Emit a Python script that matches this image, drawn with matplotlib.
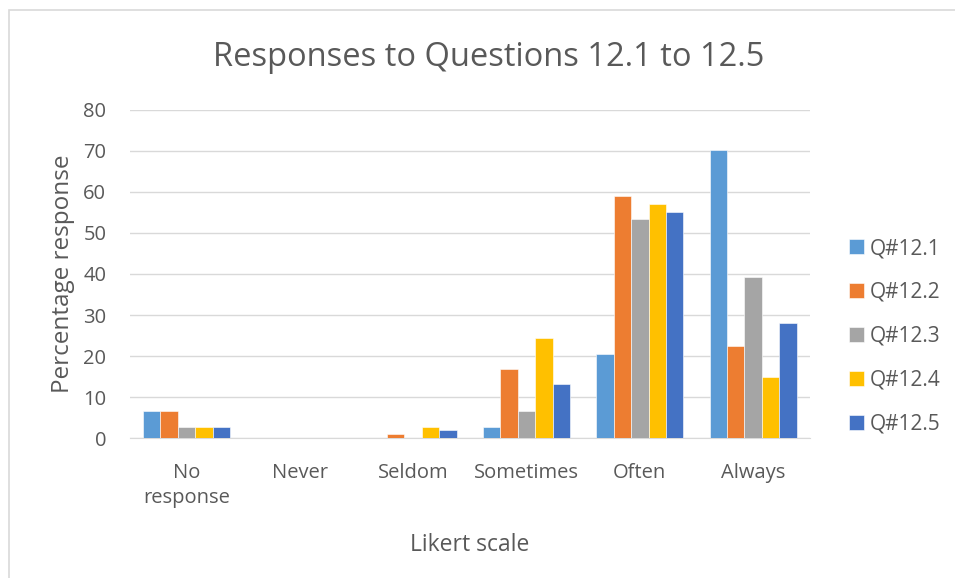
import numpy as np
import matplotlib.pyplot as plt
from matplotlib.patches import Rectangle

plt.rcParams['font.family'] = ['Open Sans', 'DejaVu Sans']

categories = ["No\nresponse", "Never", "Seldom", "Sometimes", "Often", "Always"]
series = ["Q#12.1", "Q#12.2", "Q#12.3", "Q#12.4", "Q#12.5"]
q121 = [6.5, 0, 0, 2.8, 20.6, 70.1]
q122 = [6.5, 0, 0.9, 16.8, 58.9, 22.4]
q123 = [2.8, 0, 0, 6.5, 53.3, 39.3]
q124 = [2.8, 0, 2.8, 24.3, 57.0, 15.0]
q125 = [2.8, 0, 1.9, 13.1, 55.1, 28.0]
values = [q121, q122, q123, q124, q125]
colors = ["#5B9BD5", "#ED7D31", "#A5A5A5", "#FFC000", "#4472C4"]
text_col = "#595959"

fig = plt.figure(figsize=(9.55, 5.78), dpi=100)
ax = fig.add_axes([0.136, 0.242, 0.712, 0.568])

x = np.arange(len(categories))
w = 0.154
for i, (name, vals) in enumerate(zip(series, values)):
    ax.bar(x + (i - 2) * w, vals, w, color=colors[i], label=name,
           edgecolor="white", linewidth=0.4, zorder=3)

ax.set_xlim(-0.5, len(categories) - 0.5)
ax.set_ylim(0, 80)
ax.set_yticks(range(0, 81, 10))
ax.set_xticks(x)
ax.set_xticklabels(categories, fontsize=14.5, color=text_col, linespacing=1.35)
ax.tick_params(axis='y', labelsize=14.5, colors=text_col, length=0, pad=17)
ax.tick_params(axis='x', length=0, pad=18)
ax.grid(axis='y', color="#D9D9D9", linewidth=1, zorder=0)
for s in ["top", "right", "left"]:
    ax.spines[s].set_visible(False)
ax.spines["bottom"].set_color("#D9D9D9")

ax.set_ylabel("Percentage response", fontsize=17.5, color=text_col, labelpad=6)
ax.set_xlabel("Likert scale", fontsize=16.5, color=text_col, labelpad=18)
fig.text(0.512, 0.9, "Responses to Questions 12.1 to 12.5", ha='center',
         va='center', fontsize=23.5, color=text_col)

leg = ax.legend(loc='center left', bbox_to_anchor=(1.03, 0.31), frameon=False,
                fontsize=15, handlelength=0.7, handleheight=0.7,
                handletextpad=0.3, labelspacing=1.1)
for t in leg.get_texts():
    t.set_color(text_col)

fig.patches.append(Rectangle((9 / 955, -0.1), 1.2, 1.1 - 10 / 578 + 0.0,
                             transform=fig.transFigure, fill=False,
                             edgecolor="#D9D9D9", linewidth=1.2))

fig.savefig("out.png", dpi=100)
